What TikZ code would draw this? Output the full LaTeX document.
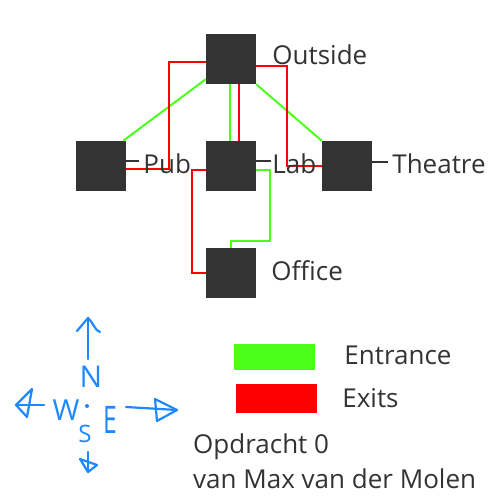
\documentclass[tikz,border=0pt]{standalone}
\usepackage{fontspec}
\setmainfont{Open Sans}
\usepackage{tikz}
\usetikzlibrary{positioning}

\definecolor{entrance}{RGB}{76,255,26}
\definecolor{exits}{RGB}{255,0,0}
\definecolor{roomgray}{RGB}{51,51,51}
\definecolor{compassblue}{RGB}{30,136,255}

\tikzset{
    room/.style={rectangle, fill=roomgray, minimum size=50pt, inner sep=0pt},
    roomlabel/.style={text=roomgray, font=\fontsize{26}{30}\selectfont, inner sep=0pt, anchor=base west},
    entry/.style={draw=entrance, line width=2pt},
    exit/.style={draw=exits, line width=2pt},
    tag/.style={draw=roomgray, line width=2pt},
    legendbox/.style={rectangle, minimum width=81pt, inner sep=0pt},
    compassline/.style={draw=compassblue, line width=2.2pt, line cap=round, line join=round},
    compassletter/.style={text=compassblue, inner sep=0pt},
}

\begin{document}
\begin{tikzpicture}[x=1pt, y=-1pt, level distance=107pt, sibling distance=116pt,
    edge from parent/.style={draw=none}]
    \useasboundingbox (0,0) rectangle (500,500);
    \node[room] (outside) at (231,59) {}
        child { node[room, xshift=-14pt] (pub) {} }
        child { node[room] (lab) {}
            child { node[room] (office) {} } }
        child { node[room] (theatre) {} };

    \draw[entry] ([yshift=5pt]outside.south west) -- ([xshift=-3pt]pub.north east);
    \draw[entry] ([xshift=-1pt]outside.south) -- ([xshift=-1pt]lab.north);
    \draw[entry] (outside.south east) -- (theatre.north west);
    \draw[entry] ([yshift=-4pt]lab.east) -- ++(14,0) |- ([yshift=7pt]office.north) -- (office.north);
    \draw[exit] ([yshift=-3pt]outside.west) -| ([xshift=43pt,yshift=-3pt]pub.east) -- ([yshift=-3pt]pub.east);
    \draw[exit] ([xshift=8pt]outside.south) -- ([xshift=8pt]lab.north);
    \draw[exit] ([yshift=-7pt]outside.east) -| ([xshift=-35pt]theatre.west) -- (theatre.west);
    \draw[exit] ([yshift=-4pt]lab.west) -| ([xshift=-14pt]office.west) -- (office.west);

    \node[roomlabel] (outsidelbl) at ([xshift=16pt,yshift=-6pt]outside.east) {Outside};
    \node[roomlabel] (publbl) at ([xshift=17pt,yshift=-7pt]pub.east) {Pub};
    \node[roomlabel] (lablbl) at ([xshift=16pt,yshift=-7pt]lab.east) {Lab};
    \node[roomlabel] (theatrelbl) at ([xshift=20pt,yshift=-7pt]theatre.east) {Theatre};
    \node[roomlabel] (officelbl) at ([xshift=15pt,yshift=-7pt]office.east) {Office};
    \foreach \r/\len/\up in {pub/13/5, lab/15/5, theatre/16/4}
        \draw[tag] ([yshift=\up pt]\r.east) -- ++(\len,0);

    \node[legendbox, fill=entrance, minimum height=26pt] (entrbox) at (274.5,357) {};
    \node[legendbox, fill=exits, minimum height=29pt] (exitbox) at (276.5,398.5) {};
    \node[roomlabel] (entrlbl) at ([xshift=29pt,yshift=-7pt]entrbox.east) {Entrance};
    \node[roomlabel] (exitlbl) at ([xshift=25pt,yshift=-8.5pt]exitbox.east) {Exits};
    \node[roomlabel] (credit) at (193,453) {Opdracht 0};
    \node[roomlabel] (author) at ([yshift=-35pt]credit.base west) {van Max van der Molen};

    \fill[compassblue] (87,406) circle (2pt);
    \draw[compassline] (88,359) -- (88,319);
    \draw[compassline] (77,331) -- (88,318) .. controls (93,322) and (95,331) .. (100,332);
    \draw[compassline] (44,405) -- (16,405);
    \draw[compassline] (16,405) -- (32,389) -- (27,417) -- cycle;
    \draw[compassline] (126,407) -- (177,410);
    \draw[compassline] (155,399) -- (177,410) -- (157,421) -- cycle;
    \draw[compassline] (88,452) -- (88,472);
    \draw[compassline] (80,459) -- (97,465) -- (88,472) -- cycle;
    \node[compassletter, font=\fontsize{30}{30}\selectfont] (north) at (91,377) {N};
    \node[compassletter, font=\fontsize{29}{30}\selectfont] (west) at (66,410) {W};
    \node[compassletter, font=\fontsize{38}{38}\selectfont, xscale=0.65] (east) at (110,420) {E};
    \node[compassletter, font=\fontsize{24}{24}\selectfont] (south) at (85,434) {S};
\end{tikzpicture}
\end{document}
